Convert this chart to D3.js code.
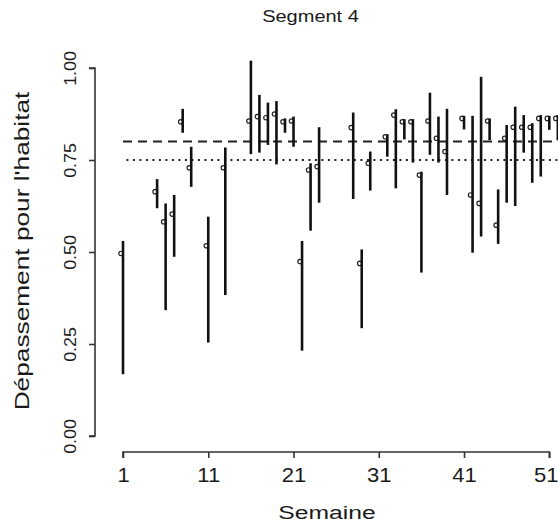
<!DOCTYPE html>
<html>
<head>
<meta charset="utf-8">
<script src="https://cdn.jsdelivr.net/npm/d3@7"></script>
<style>
html,body{margin:0;padding:0;background:#fff;}
svg{display:block;}
text{font-family:"Liberation Sans", Arial, sans-serif; fill:#1a1a1a;}
</style>
</head>
<body>
<svg id="chart" width="558" height="525"></svg>
<script>
const weeks = [1,5,6,7,8,9,11,13,16,17,18,19,20,21,22,23,24,28,29,30,32,33,34,35,36,37,38,39,41,42,43,44,45,46,47,48,49,50,51,52];
const estimate = [0.496,0.664,0.582,0.603,0.854,0.729,0.517,0.729,0.856,0.868,0.865,0.875,0.854,0.856,0.474,0.723,0.732,0.838,0.469,0.741,0.813,0.872,0.854,0.854,0.709,0.856,0.809,0.773,0.863,0.655,0.632,0.856,0.573,0.809,0.839,0.839,0.839,0.863,0.863,0.863];
const lower = [0.168,0.619,0.342,0.487,0.824,0.677,0.254,0.383,0.766,0.770,0.791,0.738,0.824,0.786,0.232,0.558,0.634,0.644,0.293,0.667,0.759,0.673,0.806,0.743,0.444,0.764,0.743,0.655,0.833,0.498,0.542,0.804,0.522,0.634,0.625,0.770,0.688,0.705,0.832,0.804];
const upper = [0.530,0.698,0.632,0.655,0.889,0.786,0.596,0.784,1.020,0.927,0.906,0.910,0.863,0.868,0.530,0.741,0.839,0.879,0.507,0.773,0.820,0.888,0.861,0.861,0.718,0.933,0.868,0.889,0.870,0.870,0.976,0.863,0.670,0.845,0.895,0.872,0.850,0.872,0.870,0.872];
const xTicks = [1,11,21,31,41,51];
const yTicks = [0,0.25,0.5,0.75,1];
const yTickLabels = ["0.00","0.25","0.50","0.75","1.00"];
const refDashed = 0.80;
const refDotted = 0.75;
const title = "Segment 4";
const xTitle = "Semaine";
const yTitle = "Dépassement pour l'habitat";

const svg = d3.select("#chart");
const x = d3.scaleLinear().domain([1,51]).range([123,549.3]);
const y = d3.scaleLinear().domain([0,1]).range([436,68]);

// reference lines
svg.append("line")
  .attr("x1", x(1)).attr("x2", x(53))
  .attr("y1", y(refDashed)).attr("y2", y(refDashed))
  .attr("stroke","#222").attr("stroke-width",2)
  .attr("stroke-dasharray","9,6");
svg.append("line")
  .attr("x1", x(1.4)).attr("x2", x(53))
  .attr("y1", y(refDotted)).attr("y2", y(refDotted))
  .attr("stroke","#222").attr("stroke-width",2)
  .attr("stroke-dasharray","2,4.5");

const data = weeks.map((w,i)=>({w, est:estimate[i], lo:lower[i], hi:upper[i]}));

const g = svg.append("g");
g.selectAll("circle.pt").data(data).enter().append("circle")
  .attr("class","pt")
  .attr("cx", d=>x(d.w)-2)
  .attr("cy", d=>y(d.est))
  .attr("r", 2.2)
  .attr("fill","#fff")
  .attr("stroke","#222")
  .attr("stroke-width",1.2);
g.selectAll("line.bar").data(data).enter().append("line")
  .attr("class","bar")
  .attr("x1", d=>x(d.w)).attr("x2", d=>x(d.w))
  .attr("y1", d=>y(d.lo)).attr("y2", d=>y(d.hi))
  .attr("stroke","#111").attr("stroke-width",2.6);

// x axis
const xAxisY = 452;
const xa = svg.append("g").attr("transform",`translate(0,${xAxisY})`)
  .call(d3.axisBottom(x).tickValues(xTicks).tickSize(6).tickPadding(4).tickFormat(d3.format("d")));
xa.select(".domain").attr("stroke","#333").attr("stroke-width",1.6).attr("d",`M${x(1)},6V0H${x(51)}V6`);
xa.selectAll(".tick line").attr("stroke","#333").attr("stroke-width",1.6);
xa.selectAll(".tick text").attr("font-size",20)
  .attr("font-family","Liberation Sans, Arial, sans-serif").attr("fill","#1a1a1a")
  .attr("y",null).attr("dy",null)
  .attr("transform","translate(0,30) scale(1.1,1)");
xa.selectAll(".tick").filter(d=>d===51).select("text")
  .attr("text-anchor","end")
  .attr("transform","translate(8.6,30) scale(1.1,1)");

// y axis
const yAxisX = 95;
const ya = svg.append("g").attr("transform",`translate(${yAxisX},0)`)
  .call(d3.axisLeft(y).tickValues(yTicks).tickSize(6).tickFormat((d,i)=>yTickLabels[i]));
ya.select(".domain").attr("stroke","#333").attr("stroke-width",1.6).attr("d",`M-6,${y(1)}H0V${y(0)}H-6`);
ya.selectAll(".tick line").attr("stroke","#333").attr("stroke-width",1.6);
ya.selectAll(".tick text")
  .attr("font-size",17).attr("font-family","Liberation Sans, Arial, sans-serif").attr("fill","#1a1a1a")
  .attr("x",null).attr("dy",null)
  .attr("text-anchor","middle")
  .attr("transform","translate(-19,0) rotate(-90) scale(1.05,1)");

// titles
svg.append("text").attr("text-anchor","middle")
  .attr("transform","translate(310.5,22) scale(1.25,1)")
  .attr("font-size",16).text(title);
svg.append("text").attr("text-anchor","middle")
  .attr("transform","translate(327,519) scale(1.3,1)")
  .attr("font-size",19).text(xTitle);
svg.append("text").attr("text-anchor","middle")
  .attr("transform","translate(29,251) rotate(-90) scale(1.25,1)")
  .attr("font-size",21).text(yTitle);
</script>
</body>
</html>
